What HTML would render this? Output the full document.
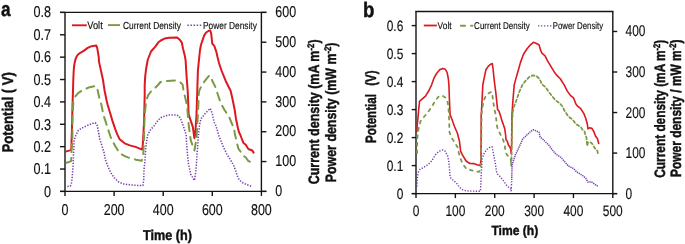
<!DOCTYPE html>
<html><head><meta charset="utf-8"><style>
html,body{margin:0;padding:0;background:#fff;}
svg{display:block;will-change:transform;}
text{font-family:"Liberation Sans", sans-serif;fill:#111;text-rendering:geometricPrecision;}
</style></head><body>
<svg width="685" height="244" viewBox="0 0 685 244">
<rect width="685" height="244" fill="#fff"/>
<line x1="65.00" y1="12.40" x2="65.00" y2="192.10" stroke="#141414" stroke-width="1.4"/>
<line x1="261.40" y1="12.40" x2="261.40" y2="192.10" stroke="#141414" stroke-width="1.4"/>
<line x1="60.00" y1="191.40" x2="266.40" y2="191.40" stroke="#141414" stroke-width="1.4"/>
<line x1="60.00" y1="12.40" x2="266.40" y2="12.40" stroke="#141414" stroke-width="1.4"/>
<line x1="60.00" y1="191.40" x2="65.00" y2="191.40" stroke="#141414" stroke-width="1.4"/>
<text transform="translate(51.00,196.90) scale(0.81,1)" font-size="15.6" font-weight="normal" text-anchor="end" stroke="#111" stroke-width="0.15" >0</text>
<line x1="60.00" y1="169.03" x2="65.00" y2="169.03" stroke="#141414" stroke-width="1.4"/>
<text transform="translate(51.00,174.46) scale(0.81,1)" font-size="15.6" font-weight="normal" text-anchor="end" stroke="#111" stroke-width="0.15" >0.1</text>
<line x1="60.00" y1="146.65" x2="65.00" y2="146.65" stroke="#141414" stroke-width="1.4"/>
<text transform="translate(51.00,152.03) scale(0.81,1)" font-size="15.6" font-weight="normal" text-anchor="end" stroke="#111" stroke-width="0.15" >0.2</text>
<line x1="60.00" y1="124.27" x2="65.00" y2="124.27" stroke="#141414" stroke-width="1.4"/>
<text transform="translate(51.00,129.59) scale(0.81,1)" font-size="15.6" font-weight="normal" text-anchor="end" stroke="#111" stroke-width="0.15" >0.3</text>
<line x1="60.00" y1="101.90" x2="65.00" y2="101.90" stroke="#141414" stroke-width="1.4"/>
<text transform="translate(51.00,107.15) scale(0.81,1)" font-size="15.6" font-weight="normal" text-anchor="end" stroke="#111" stroke-width="0.15" >0.4</text>
<line x1="60.00" y1="79.53" x2="65.00" y2="79.53" stroke="#141414" stroke-width="1.4"/>
<text transform="translate(51.00,84.71) scale(0.81,1)" font-size="15.6" font-weight="normal" text-anchor="end" stroke="#111" stroke-width="0.15" >0.5</text>
<line x1="60.00" y1="57.15" x2="65.00" y2="57.15" stroke="#141414" stroke-width="1.4"/>
<text transform="translate(51.00,62.27) scale(0.81,1)" font-size="15.6" font-weight="normal" text-anchor="end" stroke="#111" stroke-width="0.15" >0.6</text>
<line x1="60.00" y1="34.78" x2="65.00" y2="34.78" stroke="#141414" stroke-width="1.4"/>
<text transform="translate(51.00,39.84) scale(0.81,1)" font-size="15.6" font-weight="normal" text-anchor="end" stroke="#111" stroke-width="0.15" >0.7</text>
<line x1="60.00" y1="12.40" x2="65.00" y2="12.40" stroke="#141414" stroke-width="1.4"/>
<text transform="translate(51.00,17.40) scale(0.81,1)" font-size="15.6" font-weight="normal" text-anchor="end" stroke="#111" stroke-width="0.15" >0.8</text>
<line x1="261.40" y1="191.40" x2="266.40" y2="191.40" stroke="#141414" stroke-width="1.4"/>
<text transform="translate(275.30,196.15) scale(0.8,1)" font-size="15.6" font-weight="normal" text-anchor="start" stroke="#111" stroke-width="0.15" >0</text>
<line x1="261.40" y1="161.57" x2="266.40" y2="161.57" stroke="#141414" stroke-width="1.4"/>
<text transform="translate(275.30,166.32) scale(0.8,1)" font-size="15.6" font-weight="normal" text-anchor="start" stroke="#111" stroke-width="0.15" >100</text>
<line x1="261.40" y1="131.73" x2="266.40" y2="131.73" stroke="#141414" stroke-width="1.4"/>
<text transform="translate(275.30,136.48) scale(0.8,1)" font-size="15.6" font-weight="normal" text-anchor="start" stroke="#111" stroke-width="0.15" >200</text>
<line x1="261.40" y1="101.90" x2="266.40" y2="101.90" stroke="#141414" stroke-width="1.4"/>
<text transform="translate(275.30,106.65) scale(0.8,1)" font-size="15.6" font-weight="normal" text-anchor="start" stroke="#111" stroke-width="0.15" >300</text>
<line x1="261.40" y1="72.07" x2="266.40" y2="72.07" stroke="#141414" stroke-width="1.4"/>
<text transform="translate(275.30,76.82) scale(0.8,1)" font-size="15.6" font-weight="normal" text-anchor="start" stroke="#111" stroke-width="0.15" >400</text>
<line x1="261.40" y1="42.23" x2="266.40" y2="42.23" stroke="#141414" stroke-width="1.4"/>
<text transform="translate(275.30,46.98) scale(0.8,1)" font-size="15.6" font-weight="normal" text-anchor="start" stroke="#111" stroke-width="0.15" >500</text>
<line x1="261.40" y1="12.40" x2="266.40" y2="12.40" stroke="#141414" stroke-width="1.4"/>
<text transform="translate(275.30,17.15) scale(0.8,1)" font-size="15.6" font-weight="normal" text-anchor="start" stroke="#111" stroke-width="0.15" >600</text>
<line x1="65.00" y1="191.40" x2="65.00" y2="195.90" stroke="#141414" stroke-width="1.4"/>
<text transform="translate(65.00,215.20) scale(0.8,1)" font-size="15.6" font-weight="normal" text-anchor="middle" stroke="#111" stroke-width="0.15" >0</text>
<line x1="114.10" y1="191.40" x2="114.10" y2="195.90" stroke="#141414" stroke-width="1.4"/>
<text transform="translate(114.10,215.20) scale(0.8,1)" font-size="15.6" font-weight="normal" text-anchor="middle" stroke="#111" stroke-width="0.15" >200</text>
<line x1="163.20" y1="191.40" x2="163.20" y2="195.90" stroke="#141414" stroke-width="1.4"/>
<text transform="translate(163.20,215.20) scale(0.8,1)" font-size="15.6" font-weight="normal" text-anchor="middle" stroke="#111" stroke-width="0.15" >400</text>
<line x1="212.30" y1="191.40" x2="212.30" y2="195.90" stroke="#141414" stroke-width="1.4"/>
<text transform="translate(212.30,215.20) scale(0.8,1)" font-size="15.6" font-weight="normal" text-anchor="middle" stroke="#111" stroke-width="0.15" >600</text>
<line x1="261.40" y1="191.40" x2="261.40" y2="195.90" stroke="#141414" stroke-width="1.4"/>
<text transform="translate(261.40,215.20) scale(0.8,1)" font-size="15.6" font-weight="normal" text-anchor="middle" stroke="#111" stroke-width="0.15" >800</text>
<text transform="translate(1.10,15.90) scale(0.85,1)" font-size="20.3" font-weight="bold" text-anchor="start" stroke="#111" stroke-width="0.45" >a</text>
<text transform="translate(12.90,152.50) rotate(-90) scale(0.855,1)" font-size="15.4" font-weight="bold" text-anchor="start" stroke="#111" stroke-width="0.45" >Potential ( V)</text>
<text transform="translate(167.40,239.60) scale(0.89,1)" font-size="14.2" font-weight="bold" text-anchor="middle" stroke="#111" stroke-width="0.45" >Time (h)</text>
<text transform="translate(318.80,184.30) rotate(-90) scale(0.83,1)" font-size="15" font-weight="bold" text-anchor="start" stroke="#111" stroke-width="0.45" >Current density (mA m<tspan font-size="9.5" dy="-5">-2</tspan><tspan dy="5">)</tspan></text>
<text transform="translate(336.00,182.20) rotate(-90) scale(0.825,1)" font-size="15" font-weight="bold" text-anchor="start" stroke="#111" stroke-width="0.45" >Power density (mW m<tspan font-size="9.5" dy="-5">-2</tspan><tspan dy="5">)</tspan></text>
<line x1="72.00" y1="25.30" x2="86.80" y2="25.30" stroke="#dc1820" stroke-width="1.9"/>
<text transform="translate(87.20,28.90) scale(0.855,1)" font-size="10.9" font-weight="normal" text-anchor="start" stroke="#111" stroke-width="0.15" >Volt</text>
<line x1="108.00" y1="25.10" x2="120.00" y2="25.10" stroke="#7c9a45" stroke-width="1.9"/>
<text transform="translate(123.00,29.00) scale(0.82,1)" font-size="10.2" font-weight="normal" text-anchor="start" stroke="#111" stroke-width="0.15" >Current Density</text>
<line x1="187.35" y1="25.2" x2="201.3" y2="25.2" stroke="#7642ad" stroke-width="1.5" stroke-dasharray="1.5 1.6"/>
<text transform="translate(203.00,29.00) scale(0.82,1)" font-size="10.2" font-weight="normal" text-anchor="start" stroke="#111" stroke-width="0.15" >Power Density</text>
<polyline points="66.3,151.4 70.9,150.1 71.3,149.5 71.9,130.0 72.5,105.0 73.0,90.0 73.3,80.0 73.6,73.0 73.9,68.0 74.5,63.5 75.4,59.7 76.5,56.8 77.8,54.8 80.3,52.8 83.7,50.9 87.7,47.9 91.6,46.2 96.3,45.5 97.3,48.3 98.8,57.5 98.9,61.1 100.9,70.4 103.0,80.0 104.5,90.2 106.6,100.5 107.7,105.0 110.2,113.2 112.3,120.4 115.4,129.6 117.3,134.3 119.6,139.2 124.7,143.3 129.8,145.4 135.5,146.9 139.1,148.4 142.1,149.5 142.6,147.0 143.1,140.0 144.1,120.0 144.7,95.0 144.7,85.0 145.2,76.4 146.2,68.2 147.7,60.0 151.0,51.5 155.3,46.6 158.4,42.3 160.8,40.5 164.5,38.6 169.4,37.7 176.8,37.4 179.9,39.8 181.7,42.3 183.0,48.5 184.8,55.8 185.6,60.2 186.6,76.6 187.7,91.0 188.7,114.6 192.8,126.9 194.4,138.2 195.2,135.0 196.5,114.6 197.3,90.0 197.9,70.5 200.0,50.0 201.0,44.8 204.1,35.6 206.1,32.5 209.2,30.5 210.2,30.5 211.2,33.6 212.3,43.8 214.3,45.9 216.4,52.0 217.5,57.0 219.0,63.0 221.5,70.5 225.6,80.7 230.7,91.0 232.7,100.0 234.7,110.0 235.9,118.2 237.2,124.8 238.4,130.0 238.9,132.0 240.6,135.5 242.4,140.5 243.7,143.3 245.8,144.8 247.4,147.5 248.4,149.0 250.3,149.7 252.3,150.5 253.6,152.6" fill="none" stroke="#dc1820" stroke-width="2.0" stroke-linejoin="round" stroke-linecap="round"/>
<polyline points="66.6,162.7 71.2,161.1 71.5,150.0 72.4,140.0 72.5,120.0 73.3,101.5 75.3,96.4 78.4,92.8 82.5,90.2 89.7,87.2 94.8,86.1 96.8,86.7 97.9,91.3 99.4,98.4 101.4,104.6 103.4,115.0 105.5,121.1 108.0,129.3 111.4,139.2 115.5,146.4 119.6,153.1 123.7,155.6 127.8,157.4 136.0,159.7 141.6,160.8 143.0,158.0 143.5,150.0 144.1,135.0 144.5,120.0 145.2,110.0 146.2,100.4 148.2,95.2 151.3,91.1 155.4,87.6 158.0,85.0 160.5,82.0 165.7,81.0 174.9,80.5 180.0,82.0 182.6,84.6 183.6,91.1 185.6,99.3 187.0,105.5 188.7,124.8 190.7,140.2 194.4,150.5 196.5,138.2 197.9,114.6 198.9,92.0 200.0,88.9 204.1,81.8 209.2,75.6 210.2,75.6 212.3,80.7 215.3,86.9 219.4,99.2 221.5,104.5 224.5,110.0 229.0,116.6 231.2,122.0 234.1,128.6 234.9,134.3 236.6,141.3 237.6,145.5 238.3,148.5 240.4,151.3 242.5,155.0 245.8,157.5 248.2,160.8 250.3,162.0 252.7,162.0" fill="none" stroke="#7c9a45" stroke-width="2.0" stroke-linejoin="round" stroke-linecap="round" stroke-dasharray="8 6"/>
<polyline points="67.4,186.4 70.3,186.1 71.2,184.3 71.7,181.4 72.1,178.5 73.1,165.0 73.7,150.0 74.2,140.0 75.8,135.5 78.3,130.4 81.4,128.3 86.5,125.8 91.6,123.7 95.2,122.7 97.0,124.7 97.8,128.3 98.8,133.4 99.6,138.6 102.2,146.4 104.2,153.1 105.2,159.2 108.3,167.4 111.1,173.1 114.2,177.7 118.3,181.8 123.4,183.9 130.6,184.9 137.8,185.4 142.9,185.4 143.7,180.0 144.0,170.0 145.0,160.0 146.0,145.0 147.7,135.0 150.3,130.0 154.4,125.4 158.0,120.2 161.6,117.2 167.7,115.1 175.9,114.9 179.0,116.1 181.0,119.7 183.1,125.4 185.1,131.5 186.2,135.0 186.6,144.3 188.3,162.8 190.7,174.1 194.4,180.5 195.9,171.0 197.3,150.5 198.4,136.0 199.5,125.0 201.0,118.7 205.1,113.6 209.2,109.5 210.2,108.4 212.3,113.6 213.3,118.7 214.0,122.0 215.7,125.3 217.3,130.2 218.9,135.9 221.0,141.0 223.6,147.5 226.9,154.2 230.2,159.5 233.5,165.0 235.8,171.0 237.9,177.7 240.0,180.5 242.0,182.4 247.1,184.8 252.2,186.5" fill="none" stroke="#7642ad" stroke-width="1.55" stroke-linejoin="round" stroke-linecap="butt" stroke-dasharray="1.35 1.45"/>
<line x1="416.00" y1="11.50" x2="416.00" y2="194.30" stroke="#141414" stroke-width="1.4"/>
<line x1="612.80" y1="11.50" x2="612.80" y2="194.30" stroke="#141414" stroke-width="1.4"/>
<line x1="411.70" y1="193.60" x2="617.20" y2="193.60" stroke="#141414" stroke-width="1.4"/>
<line x1="415.30" y1="11.50" x2="613.50" y2="11.50" stroke="#141414" stroke-width="1.4"/>
<line x1="411.70" y1="193.60" x2="416.00" y2="193.60" stroke="#141414" stroke-width="1.4"/>
<text transform="translate(403.30,198.50) scale(0.8,1)" font-size="14.9" font-weight="normal" text-anchor="end" stroke="#111" stroke-width="0.15" >0</text>
<line x1="411.70" y1="165.60" x2="416.00" y2="165.60" stroke="#141414" stroke-width="1.4"/>
<text transform="translate(403.30,170.50) scale(0.8,1)" font-size="14.9" font-weight="normal" text-anchor="end" stroke="#111" stroke-width="0.15" >0.1</text>
<line x1="411.70" y1="137.60" x2="416.00" y2="137.60" stroke="#141414" stroke-width="1.4"/>
<text transform="translate(403.30,142.50) scale(0.8,1)" font-size="14.9" font-weight="normal" text-anchor="end" stroke="#111" stroke-width="0.15" >0.2</text>
<line x1="411.70" y1="109.60" x2="416.00" y2="109.60" stroke="#141414" stroke-width="1.4"/>
<text transform="translate(403.30,114.50) scale(0.8,1)" font-size="14.9" font-weight="normal" text-anchor="end" stroke="#111" stroke-width="0.15" >0.3</text>
<line x1="411.70" y1="81.60" x2="416.00" y2="81.60" stroke="#141414" stroke-width="1.4"/>
<text transform="translate(403.30,86.50) scale(0.8,1)" font-size="14.9" font-weight="normal" text-anchor="end" stroke="#111" stroke-width="0.15" >0.4</text>
<line x1="411.70" y1="53.60" x2="416.00" y2="53.60" stroke="#141414" stroke-width="1.4"/>
<text transform="translate(403.30,58.50) scale(0.8,1)" font-size="14.9" font-weight="normal" text-anchor="end" stroke="#111" stroke-width="0.15" >0.5</text>
<line x1="411.70" y1="25.60" x2="416.00" y2="25.60" stroke="#141414" stroke-width="1.4"/>
<text transform="translate(403.30,30.50) scale(0.8,1)" font-size="14.9" font-weight="normal" text-anchor="end" stroke="#111" stroke-width="0.15" >0.6</text>
<line x1="612.80" y1="193.60" x2="617.20" y2="193.60" stroke="#141414" stroke-width="1.4"/>
<text transform="translate(625.50,198.60) scale(0.77,1)" font-size="15.5" font-weight="normal" text-anchor="start" stroke="#111" stroke-width="0.15" >0</text>
<line x1="612.80" y1="153.07" x2="617.20" y2="153.07" stroke="#141414" stroke-width="1.4"/>
<text transform="translate(625.50,158.07) scale(0.77,1)" font-size="15.5" font-weight="normal" text-anchor="start" stroke="#111" stroke-width="0.15" >100</text>
<line x1="612.80" y1="112.54" x2="617.20" y2="112.54" stroke="#141414" stroke-width="1.4"/>
<text transform="translate(625.50,117.54) scale(0.77,1)" font-size="15.5" font-weight="normal" text-anchor="start" stroke="#111" stroke-width="0.15" >200</text>
<line x1="612.80" y1="72.01" x2="617.20" y2="72.01" stroke="#141414" stroke-width="1.4"/>
<text transform="translate(625.50,77.01) scale(0.77,1)" font-size="15.5" font-weight="normal" text-anchor="start" stroke="#111" stroke-width="0.15" >300</text>
<line x1="612.80" y1="31.48" x2="617.20" y2="31.48" stroke="#141414" stroke-width="1.4"/>
<text transform="translate(625.50,36.48) scale(0.77,1)" font-size="15.5" font-weight="normal" text-anchor="start" stroke="#111" stroke-width="0.15" >400</text>
<line x1="416.00" y1="193.60" x2="416.00" y2="198.10" stroke="#141414" stroke-width="1.4"/>
<text transform="translate(416.00,215.90) scale(0.785,1)" font-size="15.2" font-weight="normal" text-anchor="middle" stroke="#111" stroke-width="0.15" >0</text>
<line x1="455.36" y1="193.60" x2="455.36" y2="198.10" stroke="#141414" stroke-width="1.4"/>
<text transform="translate(455.36,215.90) scale(0.785,1)" font-size="15.2" font-weight="normal" text-anchor="middle" stroke="#111" stroke-width="0.15" >100</text>
<line x1="494.72" y1="193.60" x2="494.72" y2="198.10" stroke="#141414" stroke-width="1.4"/>
<text transform="translate(494.72,215.90) scale(0.785,1)" font-size="15.2" font-weight="normal" text-anchor="middle" stroke="#111" stroke-width="0.15" >200</text>
<line x1="534.08" y1="193.60" x2="534.08" y2="198.10" stroke="#141414" stroke-width="1.4"/>
<text transform="translate(534.08,215.90) scale(0.785,1)" font-size="15.2" font-weight="normal" text-anchor="middle" stroke="#111" stroke-width="0.15" >300</text>
<line x1="573.44" y1="193.60" x2="573.44" y2="198.10" stroke="#141414" stroke-width="1.4"/>
<text transform="translate(573.44,215.90) scale(0.785,1)" font-size="15.2" font-weight="normal" text-anchor="middle" stroke="#111" stroke-width="0.15" >400</text>
<line x1="612.80" y1="193.60" x2="612.80" y2="198.10" stroke="#141414" stroke-width="1.4"/>
<text transform="translate(612.80,215.90) scale(0.785,1)" font-size="15.2" font-weight="normal" text-anchor="middle" stroke="#111" stroke-width="0.15" >500</text>
<text transform="translate(363.00,16.90) scale(0.88,1)" font-size="21.2" font-weight="bold" text-anchor="start" stroke="#111" stroke-width="0.45" >b</text>
<text transform="translate(376.40,143.00) rotate(-90) scale(0.772,1)" font-size="15" font-weight="bold" text-anchor="start" stroke="#111" stroke-width="0.45" >Potential</text>
<text transform="translate(376.40,85.70) rotate(-90) scale(0.765,1)" font-size="15" font-weight="bold" text-anchor="start" stroke="#111" stroke-width="0.45" >(V)</text>
<text transform="translate(514.80,234.60) scale(0.91,1)" font-size="13.3" font-weight="bold" text-anchor="middle" stroke="#111" stroke-width="0.45" >Time (h)</text>
<text transform="translate(665.40,177.70) rotate(-90) scale(0.79,1)" font-size="15" font-weight="bold" text-anchor="start" stroke="#111" stroke-width="0.45" >Current density (mA m<tspan font-size="9.5" dy="-5">-2</tspan><tspan dy="5">)</tspan></text>
<text transform="translate(681.00,176.90) rotate(-90) scale(0.795,1)" font-size="15" font-weight="bold" text-anchor="start" stroke="#111" stroke-width="0.45" >Power density / mW m<tspan font-size="9.5" dy="-5">-2</tspan><tspan dy="5">)</tspan></text>
<line x1="423.80" y1="25.50" x2="436.90" y2="25.50" stroke="#dc1820" stroke-width="1.8"/>
<text transform="translate(437.60,29.20) scale(0.85,1)" font-size="9.9" font-weight="normal" text-anchor="start" stroke="#111" stroke-width="0.15" >Volt</text>
<line x1="460.9" y1="25.8" x2="472.4" y2="25.8" stroke="#7c9a45" stroke-width="2" stroke-linecap="round" stroke-dasharray="4.2 6"/>
<text transform="translate(474.10,29.30) scale(0.81,1)" font-size="9.9" font-weight="normal" text-anchor="start" stroke="#111" stroke-width="0.15" >Current Density</text>
<line x1="538.05" y1="25.8" x2="551.4" y2="25.8" stroke="#7642ad" stroke-width="1.35" stroke-dasharray="1.3 1.7"/>
<text transform="translate(552.80,29.40) scale(0.79,1)" font-size="9.9" font-weight="normal" text-anchor="start" stroke="#111" stroke-width="0.15" >Power Density</text>
<polyline points="417.0,131.5 417.2,125.0 417.9,118.3 418.8,108.5 419.6,101.1 421.2,99.8 425.5,96.2 429.2,90.0 431.7,84.6 434.1,77.8 436.6,73.5 439.7,69.8 442.8,68.4 445.2,69.2 447.1,72.3 448.3,78.5 448.9,84.6 449.1,90.0 449.5,102.3 450.1,114.6 452.0,119.5 454.4,126.2 457.5,133.5 459.4,140.9 460.6,151.2 462.4,154.8 466.1,161.0 469.8,163.5 473.6,163.6 478.5,165.2 480.4,165.2 481.0,160.0 481.2,115.0 481.6,109.6 482.2,97.3 482.8,85.0 484.1,78.4 485.9,69.8 488.4,66.1 490.8,64.2 492.3,63.6 493.0,68.5 493.9,77.1 494.8,85.0 495.8,92.4 496.7,101.0 497.6,109.6 498.8,110.8 500.1,114.5 502.5,122.4 503.5,125.0 504.8,129.1 505.6,134.8 506.0,139.8 507.2,141.0 508.4,145.0 510.1,147.5 510.9,149.9 511.1,153.2 511.6,145.0 512.0,114.5 512.7,103.5 513.6,92.4 514.2,85.0 515.6,79.6 518.1,71.0 520.5,62.4 523.6,54.0 527.3,48.5 530.4,44.8 533.4,42.3 535.9,43.3 539.0,44.8 540.8,50.9 542.1,53.4 545.1,55.8 547.0,59.9 550.7,66.1 554.4,72.2 557.4,75.9 560.5,79.0 562.0,81.5 564.2,84.9 567.3,91.1 570.4,95.4 573.5,97.8 575.9,104.0 577.8,106.4 580.8,108.7 583.9,113.6 585.8,118.5 587.2,123.5 588.0,129.0 589.4,127.8 591.9,128.4 593.7,131.4 595.6,136.2 597.4,138.6 598.7,143.5" fill="none" stroke="#dc1820" stroke-width="1.6" stroke-linejoin="round" stroke-linecap="round"/>
<polyline points="417.1,153.0 417.2,143.4 417.5,136.0 418.8,127.4 420.6,121.0 422.5,118.7 428.0,112.1 432.3,106.0 435.4,100.5 438.4,96.8 442.1,95.5 445.2,97.4 447.7,102.3 448.7,110.9 449.1,119.5 449.5,132.3 451.4,137.2 454.4,142.1 457.5,147.1 458.1,149.9 460.0,157.3 462.4,163.5 466.1,168.4 469.2,169.7 474.8,171.2 479.1,171.8 480.4,169.9 481.0,160.0 481.3,140.0 481.6,113.3 483.5,101.0 485.9,95.5 489.0,93.0 491.4,91.8 492.3,94.8 493.3,102.2 494.5,109.6 495.8,115.0 496.4,121.2 497.0,126.0 497.6,128.5 500.2,134.0 503.1,139.8 504.8,145.0 505.6,152.4 507.6,155.7 510.5,157.3 510.9,160.6 511.1,166.0 511.5,160.0" fill="none" stroke="#7c9a45" stroke-width="1.8" stroke-linejoin="round" stroke-linecap="round" stroke-dasharray="2.7 4.8"/>
<polyline points="511.5,160.0 511.8,140.0 512.2,120.0 513.0,110.8 514.2,105.9 516.2,100.9 519.2,92.0 522.4,84.9 526.1,80.2 529.1,77.1 532.8,75.3 536.5,76.2 539.0,78.4 540.8,81.4 541.4,83.7 545.8,87.4 548.2,91.1 551.9,96.0 555.6,100.3 559.9,103.4 561.2,105.0 562.4,106.4 564.8,111.2 568.5,116.7 572.2,119.1 575.9,124.1 580.8,127.1 582.7,130.0 584.5,131.4 585.1,133.7 586.4,137.4 587.2,146.0 588.0,142.3 590.7,142.3 592.5,144.1 595.0,148.5 597.4,150.9 598.0,154.0" fill="none" stroke="#7c9a45" stroke-width="1.75" stroke-linejoin="round" stroke-linecap="round" stroke-dasharray="2.8 2.5"/>
<polyline points="416.9,186.5 417.2,179.8 418.2,172.4 420.0,169.3 423.1,167.8 428.0,164.7 431.7,161.0 435.4,154.8 439.1,151.2 442.8,149.9 445.2,151.2 447.7,156.1 448.9,162.2 449.5,168.4 450.1,177.3 452.6,179.8 456.3,182.8 459.4,187.1 462.4,189.6 466.1,190.8 470.4,191.1 480.4,191.2 480.8,185.0 481.2,175.0 482.2,158.5 484.1,153.5 486.5,149.8 489.6,147.4 492.1,146.8 492.7,149.8 493.9,156.0 495.3,163.0 496.4,171.2 497.6,174.2 500.7,177.3 504.4,182.2 507.4,186.5 510.8,188.4 511.1,190.8 511.7,180.0" fill="none" stroke="#7642ad" stroke-width="1.45" stroke-linejoin="round" stroke-linecap="butt" stroke-dasharray="1.3 1.5"/>
<polyline points="511.7,180.0 512.1,165.0 513.8,159.8 515.4,154.8 517.5,150.7 519.5,146.2 520.5,144.0 522.8,138.9 526.1,135.7 529.3,132.8 531.0,131.1 533.4,129.8 536.5,131.1 539.0,132.3 540.2,137.2 543.3,139.7 546.4,142.8 549.4,145.8 552.3,149.9 556.0,154.2 560.9,157.3 564.6,161.6 568.3,165.9 573.2,168.4 576.9,172.1 580.3,174.1 584.0,176.6 586.4,179.1 587.7,182.1 591.4,181.9 594.4,184.0 598.1,186.4" fill="none" stroke="#7642ad" stroke-width="1.5" stroke-linejoin="round" stroke-linecap="butt" stroke-dasharray="1.3 0.8"/>
</svg>
</body></html>
